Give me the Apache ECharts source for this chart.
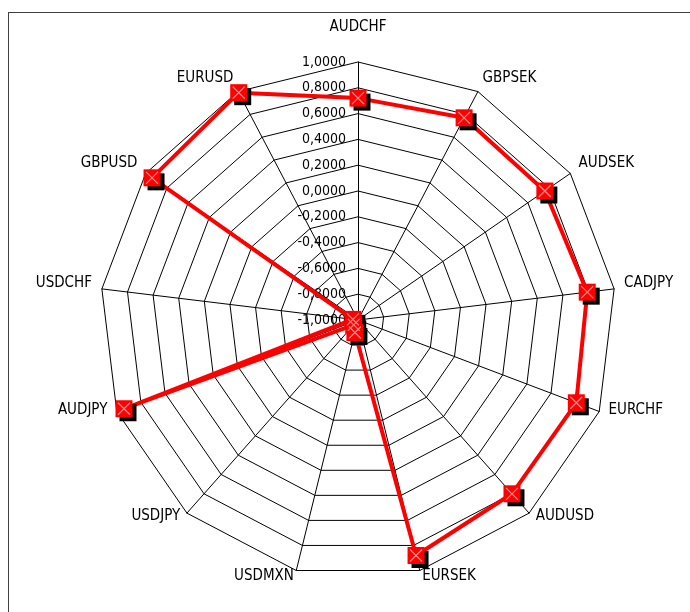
<!DOCTYPE html>
<html>
<head>
<meta charset="utf-8">
<script src="https://cdn.jsdelivr.net/npm/echarts@6/dist/echarts.min.js"></script>
<style>
    html, body { margin: 0; padding: 0; background: #fff; }
    #frame {
        position: absolute; left: 8px; top: 12px;
        width: 720px; height: 640px;
        border: 1px solid #404040;
        box-sizing: border-box;
    }
    #chart-container { position: absolute; left: 0; top: 0; width: 690px; height: 612px; }
</style>
</head>
<body>
<div id="frame"></div>
<div id="chart-container"></div>
<script>
    // clockwise from the top, as in the source chart
    const pairs = ['AUDCHF', 'GBPSEK', 'AUDSEK', 'CADJPY', 'EURCHF', 'AUDUSD', 'EURSEK',
        'USDMXN', 'USDJPY', 'AUDJPY', 'USDCHF', 'GBPUSD', 'EURUSD'];
    const values = [0.72, 0.77, 0.76, 0.79, 0.81, 0.80, 0.88, -0.90, -0.95, 0.94, -0.96, 0.94, 0.99];
    const axisMin = -1;
    const axisMax = 1;
    const axisStep = 0.2;

    // echarts puts radar axes counter-clockwise, so walk the list backwards after the first one
    const order = pairs.map((p, i) => (pairs.length - i) % pairs.length);
    const indicators = order.map(i => ({ name: pairs[i], min: axisMin, max: axisMax }));
    const radarValues = order.map(i => values[i]);

    const font = 'DejaVu Sans Condensed';
    const nameText = { color: '#000', fontSize: 15, fontFamily: font };

    var dom = document.getElementById('chart-container');
    var myChart = echarts.init(dom, null, { renderer: 'canvas' });
    var option = {
        animation: false,
        radar: {
            center: [358, 320],
            radius: 258,
            startAngle: 90,
            splitNumber: Math.round((axisMax - axisMin) / axisStep),
            shape: 'polygon',
            indicator: indicators,
            nameGap: 10,
            axisName: {
                color: '#000',
                fontSize: 15,
                fontFamily: font,
                // top name sits higher, the rest a few px above the axis end
                formatter: (name) => (name === pairs[0] ? '{top|' : '{side|') + name + '}',
                rich: {
                    top: Object.assign({ padding: [0, 0, 17, 0] }, nameText),
                    side: Object.assign({ padding: [0, 0, 9, 0] }, nameText)
                }
            },
            axisLine: { lineStyle: { color: '#000', width: 1 } },
            splitLine: { lineStyle: { color: '#000', width: 1 } },
            splitArea: { show: false },
            axisTick: { show: false },
            axisLabel: { show: false }
        },
        // value labels along the top spoke
        grid: { left: 358, top: 62, width: 1, height: 258 },
        xAxis: { type: 'value', show: false },
        yAxis: {
            type: 'value',
            min: axisMin,
            max: axisMax,
            interval: axisStep,
            axisLine: { show: false },
            axisTick: { show: false },
            splitLine: { show: false },
            axisLabel: {
                margin: 12,
                fontSize: 14,
                color: '#000',
                fontFamily: font,
                formatter: v => (Math.abs(v) < 1e-9 ? 0 : v).toFixed(4).replace('.', ',')
            }
        },
        series: [{
            type: 'radar',
            z: 3,
            symbol: 'rect',
            symbolSize: 17,
            data: [{ value: radarValues }],
            lineStyle: { color: '#ff0000', width: 4 },
            itemStyle: {
                color: '#ff0000',
                shadowColor: '#000',
                shadowBlur: 0,
                shadowOffsetX: 4,
                shadowOffsetY: 4
            }
        }, {
            // light cross drawn on each marker
            type: 'radar',
            z: 4,
            silent: true,
            symbol: 'path://M0,0L10,10M10,0L0,10',
            symbolSize: 12,
            data: [{ value: radarValues }],
            lineStyle: { width: 0, opacity: 0 },
            itemStyle: { color: 'none', borderColor: '#ff8f8f', borderWidth: 1.2 }
        }]
    };
    option && myChart.setOption(option);
</script>
</body>
</html>
